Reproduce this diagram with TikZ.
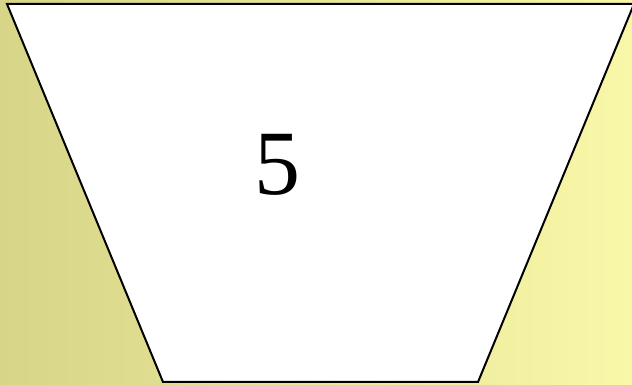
\documentclass[tikz,border=0pt]{standalone}
\usepackage{fontspec}
\setmainfont{Liberation Serif}
\definecolor{bgleft}{HTML}{D6D588}
\definecolor{bgright}{HTML}{F9F8A9}
\begin{document}
\begin{tikzpicture}[x=1pt,y=1pt,
  shapebox/.style={draw=black,line width=2pt,fill=white,line join=miter},
  numlabel/.style={font=\fontsize{92}{92}\selectfont,inner sep=0pt,anchor=base}]
\useasboundingbox (0,0) rectangle (632,385);
\shade[left color=bgleft,right color=bgright] (0,0) rectangle (632,385);
\draw[shapebox] (7,381) -- (634,381) -- (478,3) -- (163,3) -- cycle;
\node[numlabel] (five) at (277,190) {5};
\end{tikzpicture}
\end{document}
